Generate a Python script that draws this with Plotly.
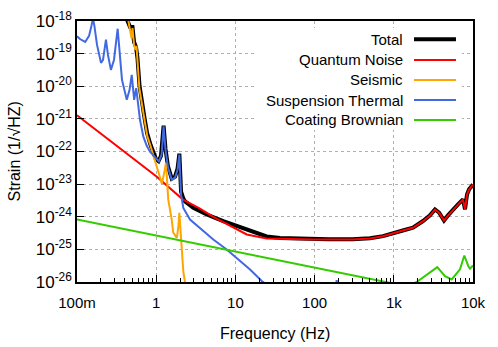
import plotly.graph_objects as go

# ---------------- axis ticks ----------------
freq_ticks = [0.1, 1, 10, 100, 1000, 10000]
freq_tick_labels = ["100m", "1", "10", "100", "1k", "10k"]
freq_minor_ticks = [m * d for d in [0.1, 1, 10, 100, 1000] for m in range(2, 10)]
strain_ticks = [1e-26, 1e-25, 1e-24, 1e-23, 1e-22, 1e-21, 1e-20, 1e-19, 1e-18]
strain_tick_labels = ["10<sup>-26</sup>", "10<sup>-25</sup>", "10<sup>-24</sup>", "10<sup>-23</sup>",
                      "10<sup>-22</sup>", "10<sup>-21</sup>", "10<sup>-20</sup>", "10<sup>-19</sup>",
                      "10<sup>-18</sup>"]

series_names = ["Total", "Quantum Noise", "Seismic", "Suspension Thermal", "Coating Brownian"]
series_colors = ["#000000", "#ff0000", "#ffa500", "#4169e1", "#33cc00"]
series_widths = [4, 2, 2, 2, 2]

# ---------------- data ----------------
total_f = [0.409, 0.434, 0.467, 0.502, 0.525, 0.556, 0.58, 0.616, 0.711, 0.766, 0.847, 0.918,
           0.995, 1.07, 1.15, 1.24, 1.31, 1.41, 1.57, 1.73, 1.86, 1.96, 2.06, 2.20, 2.31, 2.94,
           4.35, 7.03, 11.4, 17.7, 24.8, 36.6, 65.5, 150, 300, 500, 731, 1000, 1300, 1746, 2000,
           2340, 2865, 3311, 3724, 4305, 4830, 5590, 6470, 7480, 7930, 8400, 8920, 10000]
total_h = [2.2e-18, 1.0e-18, 6.6e-19, 6.6e-19, 2.28e-19, 1.6e-19, 7.4e-20, 1.03e-20, 1.08e-21,
           3.76e-22, 1.61e-22, 9.2e-23, 5.8e-23, 5.05e-23, 7.4e-23, 6.15e-22, 1.2e-22, 3.43e-23,
           1.47e-23, 1.7e-23, 2.98e-23, 8.6e-23, 5.9e-24, 3.6e-24, 2.98e-24, 1.87e-24, 1.17e-24,
           7.3e-25, 4.85e-25, 3.18e-25, 2.48e-25, 2.23e-25, 2.11e-25, 2.05e-25, 2.05e-25, 2.2e-25,
           2.55e-25, 3.25e-25, 3.8e-25, 4.6e-25, 5.6e-25, 7.4e-25, 1.1e-24, 1.68e-24, 1.35e-24,
           7.7e-25, 1.1e-24, 1.68e-24, 2.4e-24, 3.4e-24, 1.7e-24, 4.8e-24, 6.9e-24, 9.8e-24]

quantum_f = [0.1, 0.32, 1.0, 2.18, 3.57, 5.26, 9.89, 13.9, 24.8, 50, 100, 300, 500, 731, 1000,
             1300, 1746, 2000, 2340, 2865, 3311, 3724, 4305, 4830, 5590, 6470, 7480, 7930, 8400,
             8920, 10000]
quantum_h = [1.29e-21, 1.45e-22, 1.75e-23, 3.36e-24, 1.78e-24, 9.9e-25, 4.27e-25, 2.86e-25,
             2.15e-25, 2.02e-25, 2.0e-25, 2.0e-25, 2.17e-25, 2.53e-25, 3.22e-25, 3.79e-25,
             4.58e-25, 5.57e-25, 7.3e-25, 1.09e-24, 1.66e-24, 1.34e-24, 7.65e-25, 1.09e-24,
             1.66e-24, 2.36e-24, 3.36e-24, 1.66e-24, 4.78e-24, 6.8e-24, 9.66e-24]

seismic_f = [0.42, 0.447, 0.467, 0.488, 0.502, 0.525, 0.548, 0.564, 0.58, 0.612, 0.723, 0.773,
             0.847, 0.918, 1.01, 1.12, 1.18, 1.27, 1.33, 1.37, 1.42, 1.57, 1.64, 1.82, 1.90, 1.96,
             2.03, 2.12, 2.20, 2.31, 2.45]
seismic_h = [2.2e-18, 9.3e-19, 5.3e-19, 3.0e-19, 6.1e-19, 1.85e-19, 1.3e-19, 1.72e-19, 6.4e-20,
             8.9e-21, 7.4e-22, 2.9e-22, 1.5e-22, 8.0e-23, 3.95e-23, 1.82e-23, 1.03e-23, 2.41e-23,
             4.54e-23, 1.37e-23, 3.36e-24, 8.2e-25, 3.29e-25, 2.26e-25, 4.7e-25, 1.32e-24,
             2.86e-25, 7.0e-26, 2.1e-26, 9.7e-27, 4.2e-27]

suspension_f = [0.1, 0.109, 0.127, 0.142, 0.152, 0.159, 0.166, 0.179, 0.201, 0.213, 0.232,
                0.246, 0.268, 0.293, 0.326, 0.344, 0.370, 0.425, 0.461, 0.491, 0.509, 0.527,
                0.559, 0.589, 0.624, 0.687, 0.759, 0.835, 0.966, 1.08, 1.17, 1.24, 1.31, 1.41,
                1.57, 1.73, 1.86, 1.96, 2.06, 2.20, 2.67, 3.57, 5.26, 7.76, 11.4, 15.3, 21.5,
                30, 180, 190, 200]
suspension_h = [3.4e-19, 2.8e-19, 2.28e-19, 3.5e-19, 7.0e-19, 1.2e-18, 7.0e-19, 1.85e-19,
                5.2e-20, 6.4e-20, 2.68e-19, 9.1e-20, 3.18e-20, 6.4e-20, 5.8e-19, 9.1e-20,
                1.57e-20, 3.84e-21, 7.8e-21, 2.23e-20, 7.8e-21, 3.84e-21, 8.75e-21, 2.7e-21,
                9.4e-22, 2.9e-22, 1.5e-22, 9.9e-23, 6.5e-23, 5.0e-23, 8.0e-23, 5.9e-22,
                1.13e-22, 3.2e-23, 1.37e-23, 1.58e-23, 2.77e-23, 8.0e-23, 4.8e-24, 1.87e-24,
                8.2e-25, 4.6e-25, 2.0e-25, 9.9e-26, 4.36e-26, 2.43e-26, 1.07e-26, 6e-27, 4e-27,
                1.15e-26, 4e-27]

coating_f = [0.1, 1, 10, 100, 1000, 1300, 1600, 1945, 2865, 3540, 4430, 5380, 6850, 7770, 8710,
             9160, 10000]
coating_h = [8.2e-25, 2.65e-25, 8.55e-26, 2.76e-26, 8.9e-27, 7.2e-27, 8e-27, 1.0e-26, 1.92e-26,
             2.86e-26, 1.51e-26, 1.2e-26, 2.45e-26, 6.5e-26, 3.1e-26, 2.57e-26, 3.2e-26]

series_f = [total_f, quantum_f, seismic_f, suspension_f, coating_f]
series_h = [total_h, quantum_h, seismic_h, suspension_h, coating_h]

FONT = "Liberation Sans"

fig = go.Figure()
for name, color, width, fx, hy in zip(series_names, series_colors, series_widths, series_f, series_h):
    fig.add_trace(go.Scatter(x=fx, y=hy, mode="lines", name=name, showlegend=False,
                             line=dict(color=color, width=width)))

# ---------------- gnuplot-style legend (text, then sample line) ----------------
legend_rows = [0.930, 0.851, 0.774, 0.697, 0.621]
shapes = [dict(type="rect", xref="paper", yref="paper", x0=0.449, x1=0.972, y0=0.582, y1=0.973,
               fillcolor="white", line=dict(width=0), layer="above")]
annotations = []
for name, color, width, yy in zip(series_names, series_colors, series_widths, legend_rows):
    annotations.append(dict(xref="paper", yref="paper", x=0.828, y=yy, text=name, showarrow=False,
                            xanchor="right", yanchor="middle",
                            font=dict(family=FONT, size=15, color="black")))
    shapes.append(dict(type="line", xref="paper", yref="paper", x0=0.851, x1=0.957, y0=yy, y1=yy,
                       line=dict(color=color, width=width), layer="above"))

# axis titles
annotations.append(dict(xref="paper", yref="paper", x=0.5, y=-0.199, text="Frequency (Hz)",
                        showarrow=False, xanchor="center", yanchor="middle",
                        font=dict(family=FONT, size=16, color="black")))
annotations.append(dict(xref="paper", yref="paper", x=-0.1566, y=0.5, text="Strain (1/√HZ)",
                        showarrow=False, xanchor="center", yanchor="middle", textangle=-90,
                        font=dict(family=FONT, size=16, color="black")))

fig.update_layout(
    width=498, height=347,
    margin=dict(l=77, r=25, t=21, b=65, autoexpand=False),
    paper_bgcolor="white", plot_bgcolor="white",
    font=dict(family=FONT, size=15, color="black"),
    shapes=shapes, annotations=annotations,
    showlegend=False,
)
fig.update_xaxes(
    type="log", range=[-1, 4],
    tickmode="array", tickvals=freq_ticks, ticktext=freq_tick_labels,
    ticks="inside", ticklen=7, tickwidth=1, tickcolor="black",
    minor=dict(tickmode="array", tickvals=freq_minor_ticks, ticks="inside", ticklen=4,
               tickcolor="black", showgrid=False),
    showline=True, linecolor="black", linewidth=1.5, mirror=True,
    showgrid=True, gridcolor="#b0b0b0", griddash="dot", gridwidth=1,
    zeroline=False, ticklabelstandoff=6,
)
fig.update_yaxes(
    type="log", range=[-26, -18],
    tickmode="array", tickvals=strain_ticks, ticktext=strain_tick_labels,
    ticks="inside", ticklen=7, tickwidth=1, tickcolor="black",
    showline=True, linecolor="black", linewidth=1.5, mirror=True,
    showgrid=True, gridcolor="#b0b0b0", griddash="dot", gridwidth=1,
    zeroline=False, tickfont=dict(size=17), ticklabelstandoff=0,
)

fig.write_html("out.html", config={"displayModeBar": False},
               post_script="document.body.style.margin='0';document.body.style.padding='0';")
